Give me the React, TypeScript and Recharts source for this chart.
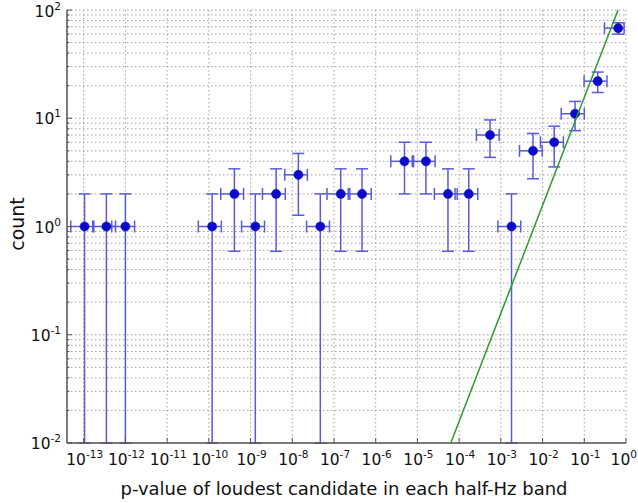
import React from 'react';
import { ComposedChart, Scatter, XAxis, YAxis, CartesianGrid, ErrorBar } from 'recharts';

// ---- data ----
const pValue = [1.05e-13, 3.5e-13, 1.0e-12, 1.2e-10, 4.1e-10, 1.3e-9, 4.1e-9, 1.4e-8, 4.7e-8, 1.45e-7, 4.7e-7,
  4.9e-6, 1.6e-5, 5.4e-5, 1.7e-4, 5.5e-4, 1.8e-3, 5.9e-3, 1.9e-2, 6.0e-2, 0.21, 0.65];
const pLow = [4.9e-14, 1.65e-13, 4.7e-13, 5.6e-11, 1.93e-10, 6.1e-10, 1.93e-9, 6.6e-9, 2.2e-8, 6.8e-8, 2.2e-7,
  2.3e-6, 7.5e-6, 2.55e-5, 8.0e-5, 2.6e-4, 8.5e-4, 2.8e-3, 8.9e-3, 2.8e-2, 0.099, 0.305];
const pHigh = [1.75e-13, 5.8e-13, 1.66e-12, 2.0e-10, 6.8e-10, 2.16e-9, 6.8e-9, 2.3e-8, 7.8e-8, 2.4e-7, 7.8e-7,
  8.1e-6, 2.65e-5, 9.0e-5, 2.8e-4, 9.1e-4, 3.0e-3, 9.8e-3, 3.15e-2, 1.0e-1, 0.35, 0.9];
const count = [1, 1, 1, 1, 2, 1, 2, 3, 1, 2, 2, 4, 4, 2, 2, 7, 1, 5, 6, 11, 22, 68];
const countLow = [0.01, 0.01, 0.01, 0.01, 0.59, 0.01, 0.59, 1.27, 0.01, 0.59, 0.59, 2, 2, 0.59, 0.59, 4.35, 0.01,
  2.76, 3.55, 7.68, 17.3, 59.8];
const countHigh = [2, 2, 2, 2, 3.41, 2, 3.41, 4.73, 2, 3.41, 3.41, 6, 6, 3.41, 3.41, 9.65, 2, 7.24, 8.45, 14.3, 26.7, 76.2];

// expected-count line (green)
const fitP = [6.3e-5, 0.645];
const fitCount = [0.01, 100];

// ticks
const xTickExp = [-13, -12, -11, -10, -9, -8, -7, -6, -5, -4, -3, -2, -1, 0];
const yTickExp = [-2, -1, 0, 1, 2];
const yMinorMult = [2, 3, 4, 5, 6, 7, 8, 9];

const xTicks = xTickExp.map((e) => Math.pow(10, e));
const yMajor = yTickExp.map((e) => Math.pow(10, e));
const yTicks: number[] = [];
yTickExp.forEach((e, i) => {
  yTicks.push(yMajor[i]);
  if (i < yTickExp.length - 1) yMinorMult.forEach((m) => yTicks.push(m * Math.pow(10, e)));
});

const points = pValue.map((x, i) => ({
  x,
  y: count[i],
  xErr: [x - pLow[i], pHigh[i] - x],
  yErr: [count[i] - countLow[i], countHigh[i] - count[i]],
}));
const fitData = fitP.map((x, i) => ({ x, y: fitCount[i] }));

const FONT = 'DejaVu Sans, sans-serif';
const FRAME = '#555';

const expOf = (v: number) => Math.round(Math.log10(v));
const isMajor = (v: number) => Math.abs(Math.log10(v) - expOf(v)) < 1e-6;

const Pow = ({ x, y, anchor, e }: any) => (
  <text x={x} y={y} textAnchor={anchor} fontFamily={FONT} fill="#111">
    <tspan fontSize={15.5}>10</tspan>
    <tspan fontSize={10.5} dy={-7}>{String(e)}</tspan>
  </text>
);

const BottomTick = (props: any) => {
  const { x, y, payload } = props;
  const last = expOf(payload.value) === 0;
  return (
    <g>
      <line x1={x} y1={y} x2={x} y2={y - 5} stroke={FRAME} strokeWidth={1} />
      {last ? (
        <Pow x={637} y={y + 22} anchor="end" e={0} />
      ) : (
        <Pow x={x + 1} y={y + 22} anchor="middle" e={expOf(payload.value)} />
      )}
    </g>
  );
};
const TopTick = (props: any) => {
  const { x, y } = props;
  return <line x1={x} y1={y} x2={x} y2={y + 5} stroke={FRAME} strokeWidth={1} />;
};
const LeftTick = (props: any) => {
  const { x, y, payload } = props;
  const major = isMajor(payload.value);
  const top = expOf(payload.value) === 2 && major;
  return (
    <g>
      <line x1={x} y1={y} x2={x + (major ? 5 : 2.5)} y2={y} stroke={FRAME} strokeWidth={1} />
      {major ? <Pow x={x - 6} y={y + (top ? 7 : 6)} anchor="end" e={expOf(payload.value)} /> : null}
    </g>
  );
};
const RightTick = (props: any) => {
  const { x, y, payload } = props;
  const major = isMajor(payload.value);
  return <line x1={x} y1={y} x2={x - (major ? 5 : 2.5)} y2={y} stroke={FRAME} strokeWidth={1} />;
};

const XLabel = () => (
  <text x={344} y={495} textAnchor="middle" fontFamily={FONT} fontSize={18} fill="#111">
    p-value of loudest candidate in each half-Hz band
  </text>
);
const YLabel = () => (
  <text x={24} y={224} textAnchor="middle" fontFamily={FONT} fontSize={19} fill="#111" transform="rotate(-90 24 224)">
    count
  </text>
);

const Dot = (props: any) => {
  const { cx, cy } = props;
  if (cx == null || cy == null) return <g />;
  return <circle cx={cx} cy={cy} r={4.6} fill="#0a0ac8" stroke="#0a0ac8" strokeWidth={0.5} />;
};
const NoDot = () => <g />;

const xDomain = [Math.pow(10, -13.4), 1];
const yDomain = [0.01, 100];

export default function App() {
  return (
    <div style={{ position: 'absolute', left: 0, top: 0, background: '#fff' }}>
      <ComposedChart width={638} height={503} margin={{ top: 10, right: 12, bottom: 0, left: 0 }}>
        <CartesianGrid stroke="#999" strokeDasharray="1.5 2.5" strokeWidth={0.9} />
        <XAxis
          xAxisId={0}
          dataKey="x"
          type="number"
          scale="log"
          domain={xDomain}
          allowDataOverflow
          ticks={xTicks}
          interval={0}
          height={60}
          tickSize={0}
          tickMargin={0}
          tick={<BottomTick />}
          axisLine={{ stroke: FRAME, strokeWidth: 1.5 }}
          label={<XLabel />}
        />
        <XAxis
          xAxisId="top"
          orientation="top"
          dataKey="x"
          type="number"
          scale="log"
          domain={xDomain}
          allowDataOverflow
          ticks={xTicks}
          interval={0}
          height={0}
          tickSize={0}
          tickMargin={0}
          tick={<TopTick />}
          axisLine={{ stroke: FRAME, strokeWidth: 1.5 }}
        />
        <YAxis
          yAxisId={0}
          dataKey="y"
          type="number"
          scale="log"
          domain={yDomain}
          allowDataOverflow
          ticks={yTicks}
          interval={0}
          width={67}
          tickSize={0}
          tickMargin={0}
          tick={<LeftTick />}
          axisLine={{ stroke: FRAME, strokeWidth: 1.5 }}
          label={<YLabel />}
        />
        <YAxis
          yAxisId="right"
          orientation="right"
          dataKey="y"
          type="number"
          scale="log"
          domain={yDomain}
          allowDataOverflow
          ticks={yTicks}
          interval={0}
          width={0}
          tickSize={0}
          tickMargin={0}
          tick={<RightTick />}
          axisLine={{ stroke: FRAME, strokeWidth: 1.5 }}
        />
        <Scatter data={points} dataKey="y" shape={<Dot />} isAnimationActive={false}>
          <ErrorBar dataKey="yErr" direction="y" width={6} stroke="#5a5adc" strokeWidth={1.5} isAnimationActive={false} />
          <ErrorBar dataKey="xErr" direction="x" width={6} stroke="#5a5adc" strokeWidth={1.5} isAnimationActive={false} />
        </Scatter>
        <Scatter
          data={fitData}
          dataKey="y"
          shape={<NoDot />}
          line={{ stroke: '#2f9a2f', strokeWidth: 1.5 }}
          isAnimationActive={false}
        />
      </ComposedChart>
    </div>
  );
}
